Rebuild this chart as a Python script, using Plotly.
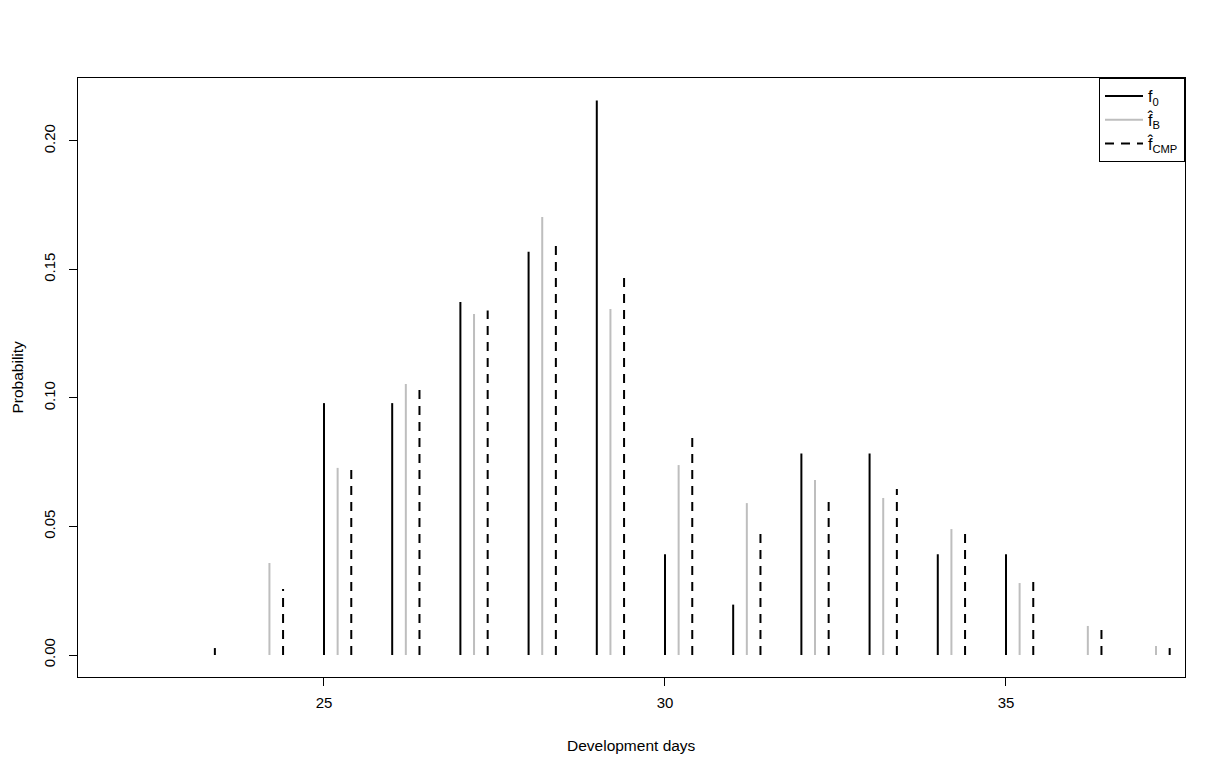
import plotly.graph_objects as go

days = [22, 23, 24, 25, 26, 27, 28, 29, 30, 31, 32, 33, 34, 35, 36, 37]
f0 = [0, 0, 0, 0.098, 0.098, 0.1373, 0.1569, 0.2157, 0.0392, 0.0196, 0.0784, 0.0784, 0.0392, 0.0392, 0, 0]
fB = [0, 0, 0.0358, 0.0728, 0.1054, 0.1327, 0.1704, 0.1346, 0.0739, 0.0591, 0.0681, 0.0611, 0.0490, 0.0280, 0.0113, 0.0035]
fCMP = [0, 0.0027, 0.0257, 0.0724, 0.1035, 0.1340, 0.1595, 0.1470, 0.0848, 0.0475, 0.0599, 0.0646, 0.0475, 0.0284, 0.0097, 0.0027]
offsets = [0.0, 0.2, 0.4]
names = ["f<sub>0</sub>", "f\u0302<sub>B</sub>", "f\u0302<sub>CMP</sub>"]
colors = ["black", "#BEBEBE", "black"]
dashes = ["solid", "solid", "9px,7px"]
x_title = "Development days"
y_title = "Probability"


def segs(xs, ys, off):
    X, Y = [], []
    for x, y in zip(xs, ys):
        X += [x + off, x + off, None]
        Y += [0, y, None]
    return X, Y


fig = go.Figure()
for vals, off, nm, col, ds in zip([f0, fB, fCMP], offsets, names, colors, dashes):
    X, Y = segs(days, vals, off)
    fig.add_trace(go.Scatter(x=X, y=Y, mode="lines", name=nm,
                             line=dict(color=col, width=2, dash=ds),
                             hoverinfo="skip"))

fam = "Liberation Sans, Arial, sans-serif"
font = dict(family=fam, size=15, color="black")
fig.add_annotation(text=x_title, xref="paper", yref="paper", x=0.5, y=0,
                   yshift=-68, showarrow=False, xanchor="center", yanchor="middle",
                   font=dict(family=fam, size=15.5, color="black"))
fig.add_annotation(text=y_title, xref="paper", yref="paper", x=0, y=0.5,
                   xshift=-61, showarrow=False, xanchor="center", yanchor="middle",
                   textangle=-90, font=dict(family=fam, size=15.5, color="black"))
fig.update_layout(
    width=1225, height=775,
    margin=dict(l=70, r=48, t=70, b=106),
    paper_bgcolor="white", plot_bgcolor="white",
    font=font,
    showlegend=True,
    legend=dict(x=1, y=1, xanchor="right", yanchor="top",
                bordercolor="black", borderwidth=1, bgcolor="white",
                font=dict(family=fam, size=16, color="black"),
                tracegroupgap=0, itemwidth=38),
    xaxis=dict(range=[21.393, 37.625], tickvals=[25, 30, 35], ticktext=["25", "30", "35"],
               showline=True, linecolor="black", linewidth=1, mirror=True,
               ticks="outside", ticklen=8, tickcolor="black", showgrid=False, zeroline=False,
               ticklabelstandoff=4, automargin=False,
               tickfont=dict(family=fam, size=15, color="black")),
    yaxis=dict(range=[-0.00856, 0.2245], tickvals=[0, 0.05, 0.10, 0.15, 0.20],
               ticktext=["0.00", "0.05", "0.10", "0.15", "0.20"], tickangle=-90,
               showline=True, linecolor="black", linewidth=1, mirror=True,
               ticks="outside", ticklen=8, tickcolor="black", showgrid=False, zeroline=False,
               ticklabelstandoff=8, automargin=False,
               tickfont=dict(family=fam, size=15, color="black")),
)
fig.write_html("out.html")
